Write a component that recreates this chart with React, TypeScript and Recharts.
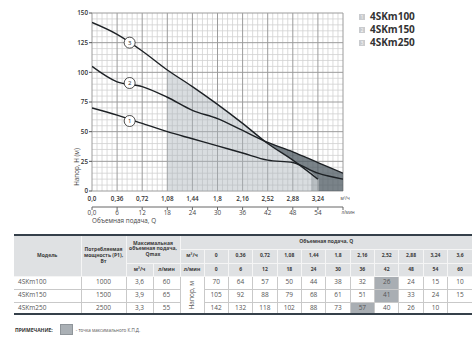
import React from 'react';
import { ComposedChart, Line, Area, XAxis, YAxis, CartesianGrid, ReferenceDot } from 'recharts';

// ---------- data ----------
const flowM3 = [0, 0.36, 0.72, 1.08, 1.44, 1.8, 2.16, 2.52, 2.88, 3.24, 3.6];
const flowM3Labels = ['0', '0,36', '0,72', '1,08', '1,44', '1,8', '2,16', '2,52', '2,88', '3,24', '3,6'];
const flowLmin = [0, 6, 12, 18, 24, 30, 36, 42, 48, 54, 60];
const headTicks = [0, 25, 50, 75, 100, 125, 150];

const models = ['4SKm100', '4SKm150', '4SKm250'];
const powerW = ['1000', '1500', '2500'];
const qmaxM3 = ['3,6', '3,9', '3,3'];
const qmaxLmin = ['60', '65', '55'];
const head100 = [70, 64, 57, 50, 44, 38, 32, 26, 24, 15, 10];
const head150 = [105, 92, 88, 79, 68, 61, 51, 41, 33, 24, 15];
const head250 = [142, 132, 118, 102, 88, 73, 57, 40, 26, 10, null];
const bestIdx = [7, 7, 6];

const heads = [head100, head150, head250];
const curveData = heads.map((h) =>
  flowM3.map((q, i) => ({ q, h: h[i] })).filter((d) => d.h !== null)
);

// shaded zones
const lightZone = [
  { q: 1.08, h: 102 }, { q: 1.44, h: 88 }, { q: 1.8, h: 73 }, { q: 2.16, h: 57 },
  { q: 2.52, h: 40 }, { q: 2.88, h: 26 }, { q: 3.14, h: 16 },
];
const midZone = [{ q: 3.14, h: 16 }, { q: 3.25, h: 10 }];
const darkZone = [
  { q: 2.47, r: [42, 42] }, { q: 2.52, r: [40, 41] }, { q: 2.88, r: [26, 33] },
  { q: 3.14, r: [16, 26.5] }, { q: 3.25, r: [10, 23.7] }, { q: 3.25, r: [0, 23.7] },
  { q: 3.6, r: [0, 15] },
];
const curveTags = [
  { id: '1', q: 0.54, h: 59 },
  { id: '2', q: 0.54, h: 91 },
  { id: '3', q: 0.54, h: 125 },
];

const Q_DOMAIN: [number, number] = [0, 3.6];
const H_DOMAIN: [number, number] = [0, 150];

const minorQ = flowM3.slice(1).flatMap((v, i) =>
  [1, 2, 3, 4].map((k) => +(flowM3[i] + ((v - flowM3[i]) * k) / 5).toFixed(4))
);
const minorH = headTicks.slice(1).flatMap((v, i) =>
  [1, 2, 3, 4].map((k) => headTicks[i] + ((v - headTicks[i]) * k) / 5)
);

const FONT = '"Open Sans", "DejaVu Sans", sans-serif';

const applyScale = (axis: any, v: number, fallback: () => number) => {
  const s = axis && axis.scale;
  if (typeof s === 'function') {
    const r = s(v);
    if (typeof r === 'number' && isFinite(r)) return r;
  }
  if (s && typeof s.map === 'function') {
    const r = s.map(v);
    if (typeof r === 'number' && isFinite(r)) return r;
  }
  return fallback();
};
const vGen = (vals: number[]) => (p: any) => {
  const o = p.offset || {};
  return vals.map((v) =>
    applyScale(p.xAxis, v, () => o.left + ((v - Q_DOMAIN[0]) / (Q_DOMAIN[1] - Q_DOMAIN[0])) * o.width)
  );
};
const hGen = (vals: number[]) => (p: any) => {
  const o = p.offset || {};
  return vals.map((v) =>
    applyScale(p.yAxis, v, () => o.top + (1 - (v - H_DOMAIN[0]) / (H_DOMAIN[1] - H_DOMAIN[0])) * o.height)
  );
};

const QTick = (p: any) => {
  const v = p.payload.value;
  const last = v === 3.6;
  const txt = last ? 'м³/ч' : v === 0 ? '0,0' : String(v).replace('.', ',');
  return (
    <text x={last ? p.x + 2 : p.x} y={p.y} dy="0.71em" textAnchor="middle" fontFamily={FONT}
      fontSize={last ? 4.5 : 6.3} fontWeight={last ? 400 : 600} fill="#333">{txt}</text>
  );
};
const LTick = (p: any) => {
  const v = p.payload.value;
  const last = v === 60;
  const txt = last ? 'л/мин' : v === 0 ? '0,0' : String(v);
  return (
    <text x={last ? p.x + 5 : p.x} y={p.y} dy="0.71em" textAnchor="middle" fontFamily={FONT}
      fontSize={last ? 4.5 : 6.3} fill="#444">{txt}</text>
  );
};
const HTick = (p: any) => (
  <text x={p.x} y={p.y} dy="0.355em" textAnchor="end" fontFamily={FONT} fontSize={6.3}
    fontWeight={600} fill="#333">{p.payload.value}</text>
);

const YLabel = (p: any) => {
  const vb = p.viewBox;
  const cx = vb.x + vb.width - 15;
  const cy = vb.y + vb.height - 24;
  return (
    <text x={cx} y={cy} transform={`rotate(-90 ${cx} ${cy})`} textAnchor="middle" dy="0.35em"
      fontFamily={FONT} fontSize={6.3} fill="#444">Напор, H (м)</text>
  );
};
const XLabel = (p: any) => {
  const vb = p.viewBox;
  return (
    <text x={vb.x} y={vb.y + 14} dy="0.35em" textAnchor="start" fontFamily={FONT} fontSize={6.3}
      fill="#444">Объемная подача, Q</text>
  );
};

const hdr: React.CSSProperties = {
  background: '#dfe1e3', border: '1px solid #f5f5f5', fontWeight: 700, fontSize: 5,
  color: '#3a3a3a', textAlign: 'center', padding: 0, lineHeight: 1.15,
};
const cell: React.CSSProperties = {
  border: '1px solid #c9c9c9', fontSize: 6.5, color: '#555', textAlign: 'center', padding: 0,
  lineHeight: 1,
};

export default function App() {
  return (
    <div style={{ position: 'absolute', left: 0, top: 0, width: 476, height: 350, background: '#fff', overflow: 'hidden', fontFamily: FONT }}>
      <div style={{ position: 'absolute', left: 0, top: 0 }}>
        <ComposedChart width={476} height={240} margin={{ top: 13, right: 133, left: 52, bottom: 3 }}>
          <XAxis xAxisId="b" type="number" dataKey="q" domain={[0, 60]} ticks={flowLmin}
            axisLine={{ stroke: '#666', strokeWidth: 1 }} tickLine={{ stroke: '#666' }} tickSize={3}
            tickMargin={1} height={30} tick={LTick} interval={0} label={XLabel} allowDataOverflow />
          <XAxis xAxisId="a" type="number" dataKey="q" domain={Q_DOMAIN} ticks={flowM3}
            axisLine={false} tickLine={false} tickSize={5} tickMargin={1} height={16} tick={QTick}
            interval={0} allowDataOverflow />
          <YAxis type="number" domain={H_DOMAIN} ticks={headTicks} width={40} axisLine={false}
            tickLine={{ stroke: '#555' }} tickSize={3} tickMargin={1} tick={HTick} interval={0}
            label={YLabel} allowDataOverflow />

          <CartesianGrid xAxisId="a" stroke="#d2d2d2" strokeWidth={0.8}
            verticalCoordinatesGenerator={vGen(minorQ)} horizontalCoordinatesGenerator={hGen(minorH)} />
          <CartesianGrid xAxisId="a" stroke="#9c9c9c" strokeWidth={1}
            verticalCoordinatesGenerator={vGen(flowM3)} horizontalCoordinatesGenerator={hGen(headTicks)} />

          <Area xAxisId="a" data={lightZone} dataKey="h" type="linear" fill="#aab3ba"
            fillOpacity={0.45} stroke="none" isAnimationActive={false} />
          <Area xAxisId="a" data={midZone} dataKey="h" type="linear" fill="#8a949b"
            fillOpacity={0.6} stroke="none" isAnimationActive={false} />
          <Area xAxisId="a" data={darkZone} dataKey="r" type="linear" fill="#4d5a62"
            fillOpacity={0.75} stroke="none" isAnimationActive={false} />

          {curveData.map((d, i) => (
            <Line key={models[i]} xAxisId="a" data={d} dataKey="h" name={models[i]} type="monotone"
              stroke="#1d2125" strokeWidth={1.4} dot={false} isAnimationActive={false} />
          ))}

          {curveTags.map((t) => (
            <ReferenceDot key={'tag' + t.id} xAxisId="a" x={t.q} y={t.h} r={5.5} fill="#fff"
              stroke="#222" strokeWidth={0.8}
              label={{ value: t.id, position: 'center', fontSize: 6, fill: '#222', fontFamily: FONT }} />
          ))}
        </ComposedChart>
      </div>

      {/* legend */}
      <div style={{ position: 'absolute', left: 359, top: 10 }}>
        {models.map((m, i) => (
          <div key={m} style={{ display: 'flex', alignItems: 'center', height: 13 }}>
            <div style={{ width: 6, height: 6, background: '#c9cbce', color: '#fff', fontSize: 4.5, lineHeight: '6px', textAlign: 'center', marginRight: 5 }}>{i + 1}</div>
            <span style={{ fontSize: 10, fontWeight: 700, color: '#333', lineHeight: '13px' }}>{m}</span>
          </div>
        ))}
      </div>

      {/* table */}
      <table style={{ position: 'absolute', left: 14, top: 234, width: 458, borderCollapse: 'collapse', tableLayout: 'fixed', borderTop: '2px solid #35404a', borderBottom: '2px solid #35404a', fontFamily: FONT }}>
        <colgroup>
          <col style={{ width: 67 }} />
          <col style={{ width: 45 }} />
          <col style={{ width: 27 }} />
          <col style={{ width: 27 }} />
          <col style={{ width: 24 }} />
          {flowM3.map((q) => <col key={'c' + q} style={{ width: 24.36 }} />)}
        </colgroup>
        <tbody>
          <tr style={{ height: 14 }}>
            <td rowSpan={3} style={{ ...hdr, borderLeft: 'none' }}>Модель</td>
            <td rowSpan={3} style={hdr}>Потребляемая<br />мощность (P1),<br />Вт</td>
            <td rowSpan={2} colSpan={2} style={hdr}>Максимальная<br />объемная подача,<br />Qmax</td>
            <td colSpan={12} style={{ ...hdr, borderRight: 'none' }}>Объемная подача, Q</td>
          </tr>
          <tr style={{ height: 14 }}>
            <td style={hdr}>м³/ч</td>
            {flowM3Labels.map((l, i) => <td key={'h' + i} style={{ ...hdr, borderRight: i === 10 ? 'none' : hdr.border }}>{l}</td>)}
          </tr>
          <tr style={{ height: 13 }}>
            <td style={hdr}>м³/ч</td>
            <td style={hdr}>л/мин</td>
            <td style={hdr}>л/мин</td>
            {flowLmin.map((l, i) => <td key={'l' + i} style={{ ...hdr, borderRight: i === 10 ? 'none' : hdr.border }}>{l}</td>)}
          </tr>
          {models.map((m, r) => (
            <tr key={m} style={{ height: r === 2 ? 12 : 13 }}>
              <td style={{ ...cell, textAlign: 'left', paddingLeft: 4, borderLeft: 'none' }}>{m}</td>
              <td style={cell}>{powerW[r]}</td>
              <td style={cell}>{qmaxM3[r]}</td>
              <td style={cell}>{qmaxLmin[r]}</td>
              {r === 0 && (
                <td rowSpan={3} style={{ ...cell }}>
                  <div style={{ writingMode: 'vertical-rl', transform: 'rotate(180deg)', margin: '0 auto', fontSize: 6.5 }}>Напор, м</div>
                </td>
              )}
              {heads[r].map((v, i) => (
                <td key={m + i} style={{ ...cell, background: i === bestIdx[r] ? '#a9aeb3' : '#fff', borderRight: i === 10 ? 'none' : cell.border }}>{v === null ? '' : v}</td>
              ))}
            </tr>
          ))}
        </tbody>
      </table>

      {/* note */}
      <div style={{ position: 'absolute', left: 15, top: 324, display: 'flex', alignItems: 'center', height: 11 }}>
        <span style={{ fontSize: 5, fontWeight: 700, color: '#333' }}>ПРИМЕЧАНИЕ:</span>
        <div style={{ width: 11, height: 9, background: '#aab0b5', border: '1px solid #8f959a', marginLeft: 7, marginRight: 3 }} />
        <span style={{ fontSize: 4.5, color: '#555' }}>- точка максимального К.П.Д.</span>
      </div>
    </div>
  );
}
